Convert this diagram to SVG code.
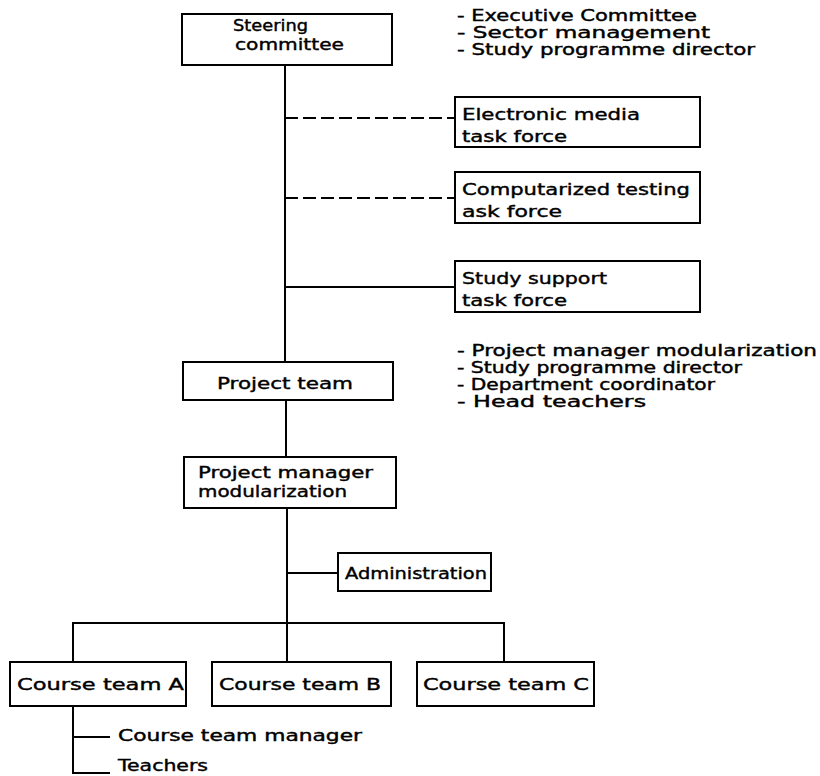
<svg xmlns="http://www.w3.org/2000/svg" width="820" height="776" viewBox="0 0 820 776">
<style>
.box{fill:#fff;stroke:#000;stroke-width:2}
.ln{fill:none;stroke:#000;stroke-width:2}
.dash{fill:none;stroke:#000;stroke-width:2;stroke-dasharray:13 5}
text{font-family:"DejaVu Sans","Liberation Sans",sans-serif;font-size:16px;fill:#000;stroke:#000;stroke-width:0.4}
.list text{font-size:15px}
</style>
<rect width="820" height="776" fill="#fff"/>
<g id="connectors">
<line class="ln" x1="285" y1="65" x2="285" y2="362"/>
<line class="dash" x1="285" y1="118" x2="455" y2="118"/>
<line class="dash" x1="285" y1="198" x2="455" y2="198"/>
<line class="ln" x1="285" y1="287" x2="455" y2="287"/>
<line class="ln" x1="286" y1="400" x2="286" y2="457"/>
<line class="ln" x1="287" y1="508" x2="287" y2="662"/>
<line class="ln" x1="287" y1="573" x2="338" y2="573"/>
<polyline class="ln" points="73,662 73,623 504,623 504,662"/>
<polyline class="ln" points="73,706 73,773 110,773"/>
<line class="ln" x1="73" y1="737" x2="110" y2="737"/>
</g>
<g id="steering">
<rect class="box" x="182" y="14" width="210" height="51"/>
<text x="233" y="31" textLength="75" lengthAdjust="spacingAndGlyphs">Steering</text>
<text x="235" y="50" textLength="109" lengthAdjust="spacingAndGlyphs">committee</text>
</g>
<g id="steering-members" class="list">
<text x="457" y="21" textLength="240" lengthAdjust="spacingAndGlyphs">- Executive Committee</text>
<text x="457" y="38" textLength="253" lengthAdjust="spacingAndGlyphs">- Sector management</text>
<text x="457" y="55" textLength="298" lengthAdjust="spacingAndGlyphs">- Study programme director</text>
</g>
<g id="electronic">
<rect class="box" x="455" y="97" width="245" height="50"/>
<text x="462" y="120" textLength="178" lengthAdjust="spacingAndGlyphs">Electronic media</text>
<text x="462" y="142" textLength="105" lengthAdjust="spacingAndGlyphs">task force</text>
</g>
<g id="testing">
<rect class="box" x="455" y="172" width="245" height="51"/>
<text x="462" y="195" textLength="228" lengthAdjust="spacingAndGlyphs">Computarized testing</text>
<text x="462" y="217" textLength="100" lengthAdjust="spacingAndGlyphs">ask force</text>
</g>
<g id="support">
<rect class="box" x="455" y="261" width="245" height="51"/>
<text x="462" y="284" textLength="145" lengthAdjust="spacingAndGlyphs">Study support</text>
<text x="462" y="306" textLength="105" lengthAdjust="spacingAndGlyphs">task force</text>
</g>
<g id="project-team">
<rect class="box" x="183" y="362" width="210" height="38"/>
<text x="217" y="389" textLength="136" lengthAdjust="spacingAndGlyphs">Project team</text>
</g>
<g id="team-members" class="list">
<text x="457" y="356" textLength="360" lengthAdjust="spacingAndGlyphs">- Project manager modularization</text>
<text x="457" y="373" textLength="285" lengthAdjust="spacingAndGlyphs">- Study programme director</text>
<text x="457" y="390" textLength="258" lengthAdjust="spacingAndGlyphs">- Department coordinator</text>
<text x="457" y="407" textLength="189" lengthAdjust="spacingAndGlyphs">- Head teachers</text>
</g>
<g id="project-manager">
<rect class="box" x="184" y="457" width="212" height="51"/>
<text x="198" y="478" textLength="175" lengthAdjust="spacingAndGlyphs">Project manager</text>
<text x="198" y="497" textLength="149" lengthAdjust="spacingAndGlyphs">modularization</text>
</g>
<g id="administration">
<rect class="box" x="338" y="553" width="153" height="38"/>
<text x="345" y="579" textLength="142" lengthAdjust="spacingAndGlyphs">Administration</text>
</g>
<g id="course-a">
<rect class="box" x="10" y="662" width="176" height="44"/>
<text x="17" y="690" textLength="167" lengthAdjust="spacingAndGlyphs">Course team A</text>
</g>
<g id="course-b">
<rect class="box" x="212" y="662" width="179" height="44"/>
<text x="219" y="690" textLength="162" lengthAdjust="spacingAndGlyphs">Course team B</text>
</g>
<g id="course-c">
<rect class="box" x="417" y="662" width="177" height="44"/>
<text x="423" y="690" textLength="166" lengthAdjust="spacingAndGlyphs">Course team C</text>
</g>
<g id="course-members" class="list">
<text x="118" y="741" textLength="244" lengthAdjust="spacingAndGlyphs">Course team manager</text>
<text x="118" y="771" textLength="90" lengthAdjust="spacingAndGlyphs">Teachers</text>
</g>
</svg>
